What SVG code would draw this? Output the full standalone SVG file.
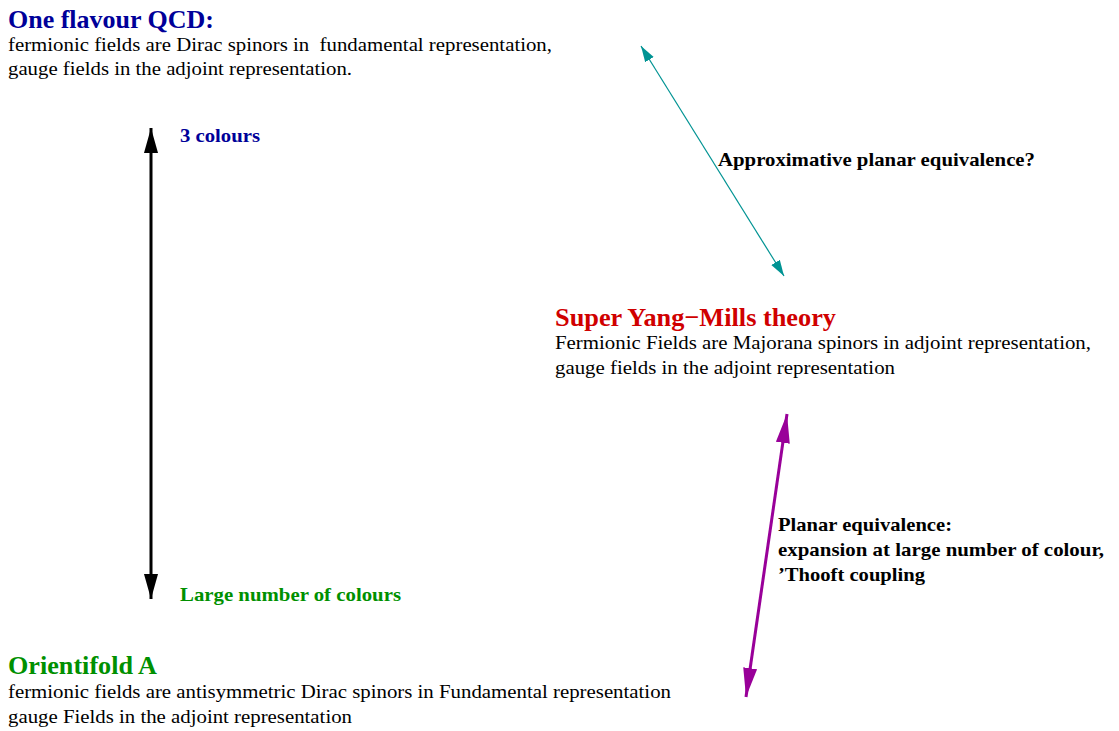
<svg xmlns="http://www.w3.org/2000/svg" width="1119" height="731" viewBox="0 0 1119 731">
<style>
text{font-family:"Liberation Serif","Times New Roman",serif;white-space:pre}
.title{font-size:26px;font-weight:bold}
.body{font-size:19px;fill:#000}
.lbl{font-size:19px;font-weight:bold}
.blue{fill:#000099}
.green{fill:#009000}
.red{fill:#d00000}
.black{fill:#000}
</style>
<defs>
<marker id="hb" markerUnits="userSpaceOnUse" markerWidth="26" markerHeight="16" refX="25" refY="7" orient="auto-start-reverse" viewBox="0 0 26 14"><path d="M0,0 L25,7 L0,14 Z" fill="#000"/></marker>
<marker id="ht" markerUnits="userSpaceOnUse" markerWidth="17" markerHeight="11" refX="16" refY="5" orient="auto-start-reverse" viewBox="0 0 17 10"><path d="M0,0 L16,5 L0,10 Z" fill="#009393"/></marker>
<marker id="hp" markerUnits="userSpaceOnUse" markerWidth="30" markerHeight="16" refX="29" refY="7" orient="auto-start-reverse" viewBox="0 0 30 14"><path d="M0,0 L29,7 L0,14 Z" fill="#990099"/></marker>
</defs>
<rect width="1119" height="731" fill="#fff"/>
<g id="qcd">
<text class="title blue" x="8" y="28" textLength="206" lengthAdjust="spacingAndGlyphs">One flavour QCD:</text>
<text class="body" x="8" y="51" textLength="544" lengthAdjust="spacingAndGlyphs">fermionic fields are Dirac spinors in  fundamental representation,</text>
<text class="body" x="8" y="75" textLength="344" lengthAdjust="spacingAndGlyphs">gauge fields in the adjoint representation.</text>
</g>
<g id="sym">
<text class="title red" x="555" y="326" textLength="281" lengthAdjust="spacingAndGlyphs">Super Yang−Mills theory</text>
<text class="body" x="555" y="349" textLength="536" lengthAdjust="spacingAndGlyphs">Fermionic Fields are Majorana spinors in adjoint representation,</text>
<text class="body" x="555" y="374" textLength="340" lengthAdjust="spacingAndGlyphs">gauge fields in the adjoint representation</text>
</g>
<g id="orientifold">
<text class="title green" x="8" y="674" textLength="149" lengthAdjust="spacingAndGlyphs">Orientifold A</text>
<text class="body" x="8" y="698" textLength="663" lengthAdjust="spacingAndGlyphs">fermionic fields are antisymmetric Dirac spinors in Fundamental representation</text>
<text class="body" x="8" y="723" textLength="344" lengthAdjust="spacingAndGlyphs">gauge Fields in the adjoint representation</text>
</g>
<g id="connectors">
<line x1="151" y1="128" x2="151" y2="599" stroke="#000" stroke-width="3" marker-start="url(#hb)" marker-end="url(#hb)"/>
<line x1="641" y1="46" x2="784" y2="276" stroke="#009393" stroke-width="1.2" marker-start="url(#ht)" marker-end="url(#ht)"/>
<line x1="787" y1="414" x2="746" y2="697" stroke="#990099" stroke-width="3" marker-start="url(#hp)" marker-end="url(#hp)"/>
</g>
<g id="labels">
<text class="lbl blue" x="180" y="142" textLength="80" lengthAdjust="spacingAndGlyphs">3 colours</text>
<text class="lbl green" x="180" y="601" textLength="221" lengthAdjust="spacingAndGlyphs">Large number of colours</text>
<text class="lbl black" x="718" y="166" textLength="317" lengthAdjust="spacingAndGlyphs">Approximative planar equivalence?</text>
<text class="lbl black" x="778" y="531" textLength="174" lengthAdjust="spacingAndGlyphs">Planar equivalence:</text>
<text class="lbl black" x="778" y="556" textLength="326" lengthAdjust="spacingAndGlyphs">expansion at large number of colour,</text>
<text class="lbl black" x="778" y="581" textLength="147" lengthAdjust="spacingAndGlyphs">’Thooft coupling</text>
</g>
</svg>
